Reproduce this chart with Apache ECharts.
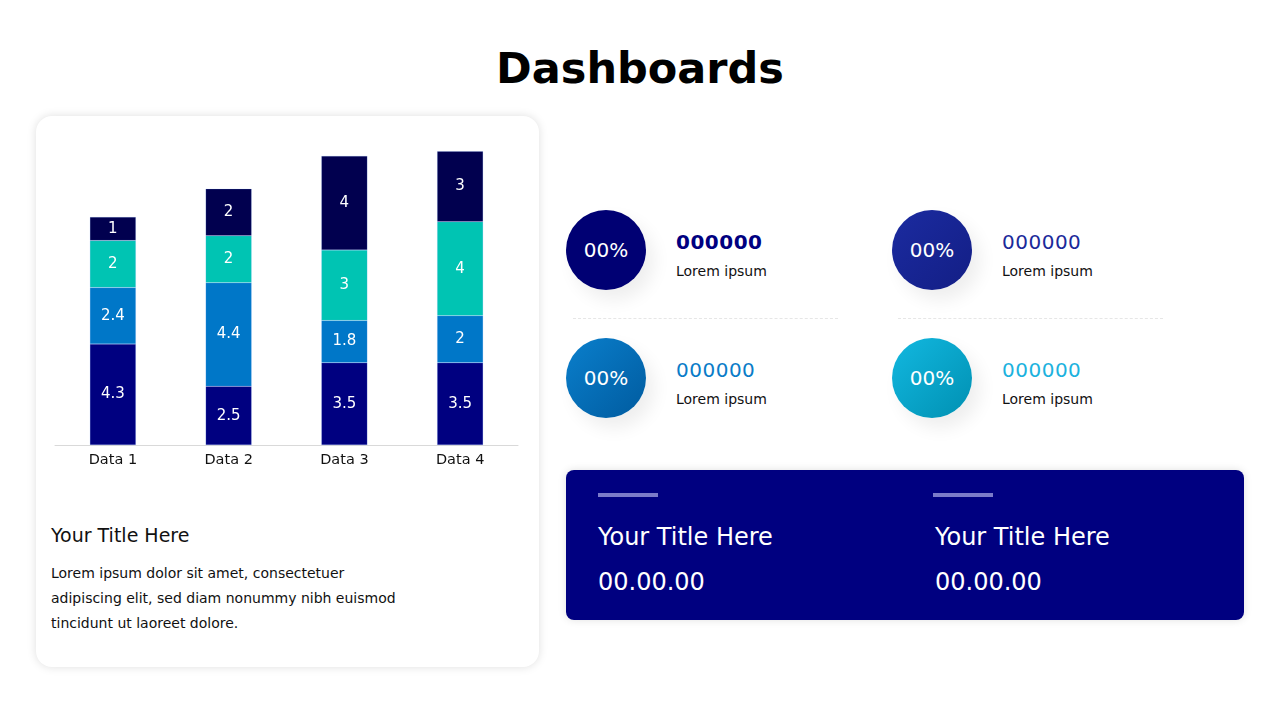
<!DOCTYPE html>
<html>
<head>
<meta charset="utf-8">
<script src="https://cdn.jsdelivr.net/npm/echarts@6/dist/echarts.min.js"></script>
<style>
  body { margin: 0; width: 1280px; height: 720px; background: #fff; position: relative; overflow: hidden;
         font-family: "DejaVu Sans", sans-serif; }
  .title { position: absolute; left: 0; width: 1280px; top: 43px; text-align: center;
           font-size: 43px; font-weight: bold; color: #000; }
  .card { position: absolute; left: 36px; top: 116px; width: 503px; height: 551px; border-radius: 16px;
          background: #fff; box-shadow: 0 0 10px rgba(0,0,0,0.13); }
  #chart { position: absolute; left: 36px; top: 116px; width: 503px; height: 380px; }
  .card-title { position: absolute; left: 51px; top: 524px; font-size: 19px; color: #111; }
  .card-text { position: absolute; left: 51px; top: 561px; font-size: 14px; line-height: 25px; color: #111; }
  .circle { position: absolute; width: 80px; height: 80px; border-radius: 50%; color: #fff;
            font-size: 20px; line-height: 80px; text-align: center;
            box-shadow: 8px 10px 18px rgba(0,0,0,0.07); }
  .num { position: absolute; font-size: 20px; letter-spacing: 0.5px; }
  .lbl { position: absolute; font-size: 14px; color: #111; }
  .dash { position: absolute; top: 318px; height: 0; border-top: 1px dashed #e6e6e6; }
  .panel { position: absolute; left: 566px; top: 470px; width: 678px; height: 150px; border-radius: 8px;
           background: #000080; box-shadow: 0 0 8px rgba(0,0,0,0.12); }
  .pbar { position: absolute; top: 493px; width: 60px; height: 4px; background: #7b7bc9; }
  .ptitle { position: absolute; top: 523px; font-size: 24px; color: #fff; }
  .pdate { position: absolute; top: 568px; font-size: 24px; color: #fff; }
</style>
</head>
<body>
<div class="title">Dashboards</div>
<div class="card"></div>
<div id="chart"></div>
<div class="card-title">Your Title Here</div>
<div class="card-text">Lorem ipsum dolor sit amet, consectetuer<br>adipiscing elit, sed diam nonummy nibh euismod<br>tincidunt ut laoreet dolore.</div>
<div id="stats"></div>
<div class="dash" style="left:573px;width:265px"></div>
<div class="dash" style="left:898px;width:265px"></div>
<div class="panel"></div>
<div class="pbar" style="left:598px"></div>
<div class="pbar" style="left:933px"></div>
<div class="ptitle" style="left:598px">Your Title Here</div>
<div class="ptitle" style="left:935px">Your Title Here</div>
<div class="pdate" style="left:598px">00.00.00</div>
<div class="pdate" style="left:935px">00.00.00</div>

<script>
// 柱状图数据
const categories = ['Data 1', 'Data 2', 'Data 3', 'Data 4']
const seriesA = [4.3, 2.5, 3.5, 3.5]
const seriesB = [2.4, 4.4, 1.8, 2]
const seriesC = [2, 2, 3, 4]
const seriesD = [1, 2, 4, 3]

// 右侧指标
const statPercents = ['00%', '00%', '00%', '00%']
const statValues = ['000000', '000000', '000000', '000000']
const statLabels = ['Lorem ipsum', 'Lorem ipsum', 'Lorem ipsum', 'Lorem ipsum']

const statStyles = [
  { x: 566, y: 210, bg: '#000073', color: '#000080', bold: true },
  { x: 892, y: 210, bg: 'linear-gradient(135deg, #1b2ba0, #131e85)', color: '#1b2a9a', bold: false },
  { x: 566, y: 338, bg: 'linear-gradient(135deg, #0a7fcc, #005b9f)', color: '#0a7cc8', bold: false },
  { x: 892, y: 338, bg: 'linear-gradient(135deg, #12b8e0, #0090b2)', color: '#1cb2de', bold: false },
]

const stats = document.getElementById('stats')
statStyles.forEach((s, i) => {
  stats.insertAdjacentHTML('beforeend',
    `<div class="circle" style="left:${s.x}px;top:${s.y}px;background:${s.bg}">${statPercents[i]}</div>` +
    `<div class="num" style="left:${s.x + 110}px;top:${s.y + 20}px;color:${s.color};font-weight:${s.bold ? 'bold' : 'normal'}">${statValues[i]}</div>` +
    `<div class="lbl" style="left:${s.x + 110}px;top:${s.y + 53}px">${statLabels[i]}</div>`)
})

const chart = echarts.init(document.getElementById('chart'))
const label = { show: true, color: '#fff', fontSize: 15, fontFamily: 'DejaVu Sans' }
const mk = (name, data, color) => ({
  name, type: 'bar', stack: 'total', data, barWidth: 46, label,
  itemStyle: { color, borderColor: 'rgba(120,170,255,0.35)', borderWidth: 0.5 },
})
chart.setOption({
  animation: false,
  grid: { left: 19, right: 21, top: 0, bottom: 51 },
  xAxis: {
    type: 'category',
    data: categories,
    axisLine: { lineStyle: { color: '#d9d9d9' } },
    axisTick: { show: false },
    axisLabel: { color: '#111', fontSize: 14.5, margin: 8, fontFamily: 'DejaVu Sans' },
  },
  yAxis: { type: 'value', min: 0, max: 14, show: false, splitLine: { show: false } },
  series: [
    mk('A', seriesA, '#000080'),
    mk('B', seriesB, '#0077c8'),
    mk('C', seriesC, '#00c4b3'),
    mk('D', seriesD, '#01004f'),
  ],
})
</script>
</body>
</html>
